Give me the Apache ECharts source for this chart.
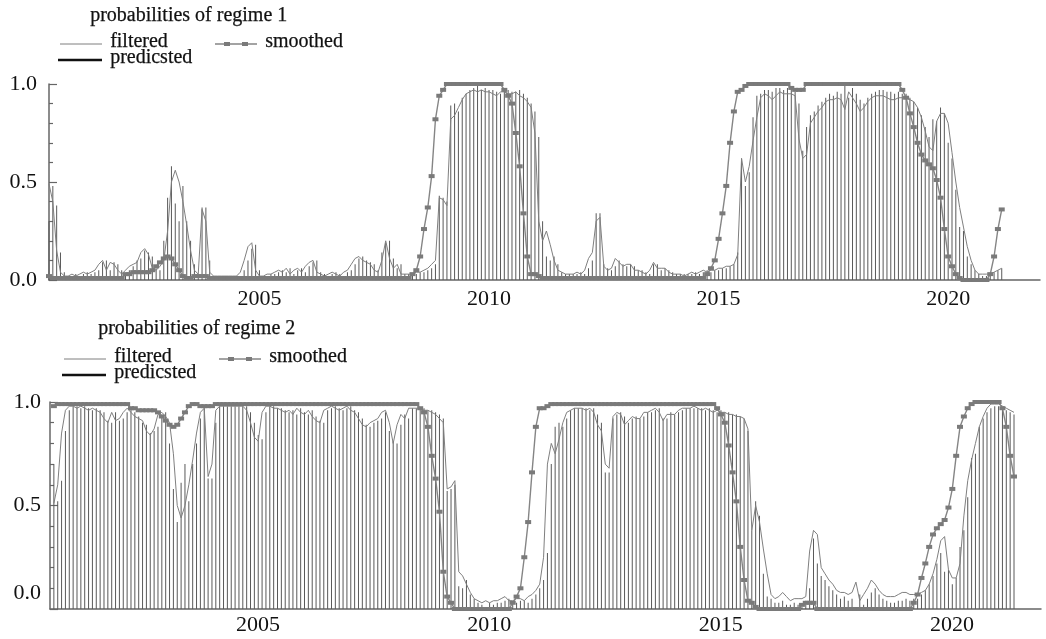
<!DOCTYPE html>
<html><head><meta charset="utf-8">
<script src="https://cdn.jsdelivr.net/npm/echarts@6/dist/echarts.min.js"></script>
<style>html,body{margin:0;padding:0;background:#fff}#c{width:1046px;height:639px}</style>
</head><body><div id="c"></div>
<script>
// ---------------- data (monthly, first observation 2000M06) ----------------
const yearLabels = ['2005', '2010', '2015', '2020'];
const yTickLabels = ['0.0', '0.5', '1.0'];
const panelTitles = ['probabilities of regime 1', 'probabilities of regime 2'];
const legendNames = ['filtered', 'smoothed', 'predicsted'];

const filtered1 = [
0.49,0.40,0.15,0.04,0.02,0.02,0.03,0.02,0.03,0.04,
0.03,0.04,0.05,0.08,0.10,0.05,0.09,0.08,0.05,0.03,
0.05,0.07,0.08,0.09,0.14,0.16,0.13,0.06,0.05,0.07,
0.10,0.25,0.50,0.56,0.50,0.40,0.28,0.15,0.05,0.03,
0.36,0.30,0.04,0.02,0.02,0.02,0.02,0.02,0.02,0.02,
0.04,0.10,0.17,0.19,0.05,0.02,0.02,0.03,0.03,0.04,
0.05,0.04,0.06,0.03,0.05,0.06,0.04,0.07,0.09,0.10,
0.04,0.03,0.02,0.03,0.04,0.03,0.02,0.04,0.05,0.08,
0.11,0.12,0.10,0.09,0.08,0.05,0.04,0.10,0.20,0.11,
0.06,0.08,0.03,0.03,0.03,0.03,0.04,0.04,0.05,0.06,
0.08,0.10,0.42,0.41,0.38,0.82,0.84,0.88,0.92,0.95,
0.96,0.97,0.96,0.97,0.96,0.96,0.95,0.94,0.96,0.96,
0.95,0.95,0.96,0.94,0.93,0.91,0.88,0.75,0.30,0.20,
0.25,0.18,0.10,0.05,0.04,0.03,0.03,0.03,0.04,0.03,
0.05,0.11,0.14,0.30,0.32,0.07,0.05,0.06,0.11,0.09,
0.07,0.08,0.08,0.05,0.05,0.04,0.03,0.05,0.09,0.06,
0.06,0.06,0.04,0.03,0.03,0.03,0.02,0.03,0.04,0.03,
0.04,0.05,0.04,0.05,0.05,0.06,0.06,0.07,0.07,0.08,
0.13,0.62,0.50,0.58,0.71,0.83,0.93,0.95,0.94,0.92,
0.94,0.96,0.95,0.95,0.95,0.94,0.72,0.62,0.64,0.80,
0.83,0.86,0.88,0.91,0.92,0.92,0.93,0.92,0.87,0.96,
0.93,0.90,0.86,0.88,0.91,0.93,0.94,0.94,0.94,0.93,
0.92,0.92,0.93,0.93,0.93,0.92,0.91,0.88,0.83,0.76,
0.68,0.66,0.81,0.85,0.85,0.80,0.65,0.50,0.37,0.27,
0.17,0.10,0.05,0.03,0.03,0.03,0.03,0.04,0.05,0.06
];
const smoothed1 = [
0.02,0.01,0.01,0.01,0.01,0.01,0.01,0.01,0.01,0.01,
0.01,0.01,0.01,0.01,0.01,0.01,0.01,0.01,0.01,0.01,
0.03,0.03,0.04,0.04,0.04,0.04,0.04,0.05,0.07,0.09,
0.11,0.12,0.11,0.08,0.05,0.02,0.01,0.01,0.02,0.02,
0.02,0.02,0.01,0.01,0.01,0.01,0.01,0.01,0.01,0.01,
0.01,0.01,0.01,0.01,0.01,0.01,0.01,0.01,0.01,0.01,
0.01,0.01,0.01,0.01,0.01,0.01,0.01,0.01,0.01,0.01,
0.01,0.01,0.01,0.01,0.01,0.01,0.01,0.01,0.01,0.01,
0.01,0.01,0.01,0.01,0.01,0.01,0.01,0.01,0.01,0.01,
0.01,0.01,0.01,0.01,0.01,0.03,0.05,0.12,0.26,0.37,
0.53,0.82,0.94,0.97,1.00,1.00,1.00,1.00,1.00,1.00,
1.00,1.00,1.00,1.00,1.00,1.00,1.00,1.00,1.00,0.97,
0.94,0.90,0.75,0.58,0.34,0.12,0.03,0.03,0.02,0.01,
0.01,0.01,0.01,0.01,0.01,0.01,0.01,0.01,0.01,0.01,
0.01,0.01,0.01,0.01,0.01,0.01,0.01,0.01,0.01,0.01,
0.01,0.01,0.01,0.01,0.01,0.01,0.01,0.01,0.01,0.01,
0.01,0.01,0.01,0.01,0.01,0.01,0.01,0.01,0.01,0.01,
0.01,0.01,0.03,0.06,0.10,0.21,0.34,0.48,0.70,0.86,
0.96,0.97,0.99,1.00,1.00,1.00,1.00,1.00,1.00,1.00,
1.00,1.00,1.00,1.00,0.98,0.97,0.97,0.97,1.00,1.00,
1.00,1.00,1.00,1.00,1.00,1.00,1.00,1.00,1.00,1.00,
1.00,1.00,1.00,1.00,1.00,1.00,1.00,1.00,1.00,1.00,
1.00,1.00,1.00,0.97,0.93,0.85,0.78,0.70,0.64,0.61,
0.59,0.57,0.51,0.42,0.26,0.12,0.07,0.03,0.01,0.00,
0.00,0.00,0.00,0.00,0.00,0.00,0.03,0.12,0.26,0.36
];
const predicted1 = [
0.30,0.48,0.38,0.14,0.04,0.02,0.02,0.03,0.02,0.03,
0.04,0.03,0.04,0.05,0.09,0.10,0.05,0.09,0.08,0.05,
0.03,0.05,0.07,0.10,0.11,0.15,0.14,0.12,0.06,0.05,
0.20,0.42,0.58,0.39,0.30,0.48,0.30,0.20,0.08,0.03,
0.37,0.37,0.10,0.02,0.02,0.02,0.02,0.02,0.02,0.02,
0.02,0.05,0.10,0.16,0.18,0.05,0.02,0.02,0.03,0.03,
0.04,0.05,0.04,0.06,0.03,0.05,0.06,0.04,0.07,0.09,
0.10,0.04,0.03,0.02,0.03,0.04,0.03,0.02,0.04,0.05,
0.08,0.11,0.12,0.10,0.09,0.08,0.05,0.14,0.19,0.20,
0.11,0.06,0.08,0.03,0.03,0.03,0.03,0.04,0.04,0.05,
0.06,0.08,0.43,0.42,0.40,0.89,0.90,0.86,0.93,0.95,
0.97,0.98,0.99,0.97,0.98,0.97,0.97,0.96,0.95,0.97,
0.97,0.96,0.96,0.97,0.95,0.93,0.90,0.86,0.73,0.30,
0.12,0.10,0.12,0.08,0.04,0.03,0.03,0.03,0.03,0.04,
0.03,0.06,0.10,0.34,0.34,0.08,0.06,0.05,0.07,0.10,
0.08,0.07,0.08,0.07,0.05,0.05,0.04,0.03,0.08,0.08,
0.05,0.06,0.05,0.04,0.03,0.03,0.03,0.03,0.03,0.04,
0.03,0.04,0.05,0.04,0.05,0.05,0.06,0.06,0.07,0.08,
0.14,0.62,0.48,0.55,0.83,0.94,0.95,0.97,0.97,0.96,
0.98,0.98,0.97,0.98,0.99,0.96,0.90,0.66,0.78,0.84,
0.86,0.89,0.91,0.93,0.95,0.94,0.96,0.95,0.99,0.93,
0.98,0.95,0.92,0.90,0.93,0.95,0.96,0.97,0.97,0.96,
0.96,0.95,0.96,0.95,0.95,0.93,0.91,0.88,0.84,0.78,
0.73,0.82,0.81,0.88,0.85,0.70,0.62,0.46,0.27,0.25,
0.12,0.08,0.05,0.03,0.02,0.02,0.03,0.04,0.05,0.06
];
const filtered2 = [
0.51,0.60,0.85,0.96,0.98,0.98,0.97,0.98,0.97,0.96,
0.97,0.96,0.95,0.92,0.90,0.95,0.91,0.92,0.95,0.97,
0.95,0.93,0.92,0.91,0.86,0.84,0.87,0.94,0.95,0.93,
0.90,0.75,0.50,0.44,0.50,0.60,0.72,0.85,0.95,0.97,
0.64,0.70,0.96,0.98,0.98,0.98,0.98,0.98,0.98,0.98,
0.96,0.90,0.83,0.81,0.95,0.98,0.98,0.97,0.97,0.96,
0.95,0.96,0.94,0.97,0.95,0.94,0.96,0.93,0.91,0.90,
0.96,0.97,0.98,0.97,0.96,0.97,0.98,0.96,0.95,0.92,
0.89,0.88,0.90,0.91,0.92,0.95,0.96,0.90,0.80,0.89,
0.94,0.92,0.97,0.97,0.97,0.97,0.96,0.96,0.95,0.94,
0.92,0.90,0.58,0.59,0.62,0.18,0.16,0.12,0.08,0.05,
0.04,0.03,0.04,0.03,0.04,0.04,0.05,0.06,0.04,0.04,
0.05,0.05,0.04,0.06,0.07,0.09,0.12,0.25,0.70,0.80,
0.75,0.82,0.90,0.95,0.96,0.97,0.97,0.97,0.96,0.97,
0.95,0.89,0.86,0.70,0.68,0.93,0.95,0.94,0.89,0.91,
0.93,0.92,0.92,0.95,0.95,0.96,0.97,0.95,0.91,0.94,
0.94,0.94,0.96,0.97,0.97,0.97,0.98,0.97,0.96,0.97,
0.96,0.95,0.96,0.95,0.95,0.94,0.94,0.93,0.93,0.92,
0.87,0.38,0.50,0.42,0.29,0.17,0.07,0.05,0.06,0.08,
0.06,0.04,0.05,0.05,0.05,0.06,0.28,0.38,0.36,0.20,
0.17,0.14,0.12,0.09,0.08,0.08,0.07,0.08,0.13,0.04,
0.07,0.10,0.14,0.12,0.09,0.07,0.06,0.06,0.06,0.07,
0.08,0.08,0.07,0.07,0.07,0.08,0.09,0.12,0.17,0.24,
0.33,0.35,0.19,0.15,0.15,0.22,0.45,0.62,0.72,0.80,
0.88,0.93,0.97,0.99,0.99,0.99,0.98,0.97,0.96,0.95
];
const smoothed2 = [
0.98,0.99,0.99,0.99,0.99,0.99,0.99,0.99,0.99,0.99,
0.99,0.99,0.99,0.99,0.99,0.99,0.99,0.99,0.99,0.99,
0.97,0.97,0.96,0.96,0.96,0.96,0.96,0.95,0.93,0.91,
0.89,0.88,0.89,0.92,0.95,0.98,0.99,0.99,0.98,0.98,
0.98,0.98,0.99,0.99,0.99,0.99,0.99,0.99,0.99,0.99,
0.99,0.99,0.99,0.99,0.99,0.99,0.99,0.99,0.99,0.99,
0.99,0.99,0.99,0.99,0.99,0.99,0.99,0.99,0.99,0.99,
0.99,0.99,0.99,0.99,0.99,0.99,0.99,0.99,0.99,0.99,
0.99,0.99,0.99,0.99,0.99,0.99,0.99,0.99,0.99,0.99,
0.99,0.99,0.99,0.99,0.99,0.97,0.95,0.88,0.74,0.63,
0.47,0.18,0.06,0.03,0.00,0.00,0.00,0.00,0.00,0.00,
0.00,0.00,0.00,0.00,0.00,0.00,0.00,0.00,0.00,0.03,
0.06,0.10,0.25,0.42,0.66,0.88,0.97,0.97,0.98,0.99,
0.99,0.99,0.99,0.99,0.99,0.99,0.99,0.99,0.99,0.99,
0.99,0.99,0.99,0.99,0.99,0.99,0.99,0.99,0.99,0.99,
0.99,0.99,0.99,0.99,0.99,0.99,0.99,0.99,0.99,0.99,
0.99,0.99,0.99,0.99,0.99,0.99,0.99,0.99,0.99,0.99,
0.99,0.99,0.97,0.94,0.90,0.79,0.66,0.52,0.30,0.14,
0.04,0.03,0.01,0.00,0.00,0.00,0.00,0.00,0.00,0.00,
0.00,0.00,0.00,0.00,0.02,0.03,0.03,0.03,0.00,0.00,
0.00,0.00,0.00,0.00,0.00,0.00,0.00,0.00,0.00,0.00,
0.00,0.00,0.00,0.00,0.00,0.00,0.00,0.00,0.00,0.00,
0.00,0.00,0.00,0.03,0.07,0.15,0.22,0.30,0.36,0.39,
0.41,0.43,0.49,0.58,0.74,0.88,0.93,0.97,0.99,1.00,
1.00,1.00,1.00,1.00,1.00,1.00,0.97,0.88,0.74,0.64
];
const predicted2 = [
0.70,0.52,0.62,0.86,0.96,0.98,0.98,0.97,0.98,0.97,
0.96,0.97,0.96,0.95,0.91,0.90,0.95,0.91,0.92,0.95,
0.97,0.95,0.93,0.90,0.89,0.85,0.86,0.88,0.94,0.95,
0.80,0.58,0.42,0.61,0.70,0.52,0.70,0.80,0.92,0.97,
0.63,0.63,0.90,0.98,0.98,0.98,0.98,0.98,0.98,0.98,
0.98,0.95,0.90,0.84,0.82,0.95,0.98,0.98,0.97,0.97,
0.96,0.95,0.96,0.94,0.97,0.95,0.94,0.96,0.93,0.91,
0.90,0.96,0.97,0.98,0.97,0.96,0.97,0.98,0.96,0.95,
0.92,0.89,0.88,0.90,0.91,0.92,0.95,0.86,0.81,0.80,
0.89,0.94,0.92,0.97,0.97,0.97,0.97,0.96,0.96,0.95,
0.94,0.92,0.57,0.58,0.60,0.11,0.10,0.14,0.07,0.05,
0.03,0.02,0.01,0.03,0.02,0.03,0.03,0.04,0.05,0.03,
0.03,0.04,0.04,0.03,0.05,0.07,0.10,0.14,0.27,0.70,
0.88,0.90,0.88,0.92,0.96,0.97,0.97,0.97,0.97,0.96,
0.97,0.94,0.90,0.66,0.66,0.92,0.94,0.95,0.93,0.90,
0.92,0.93,0.92,0.93,0.95,0.95,0.96,0.97,0.92,0.92,
0.95,0.94,0.95,0.96,0.97,0.97,0.97,0.97,0.97,0.96,
0.97,0.96,0.95,0.96,0.95,0.95,0.94,0.94,0.93,0.92,
0.86,0.38,0.52,0.45,0.17,0.06,0.05,0.03,0.03,0.04,
0.02,0.02,0.03,0.02,0.01,0.04,0.10,0.34,0.22,0.16,
0.14,0.11,0.09,0.07,0.05,0.06,0.04,0.05,0.01,0.07,
0.02,0.05,0.08,0.10,0.07,0.05,0.04,0.03,0.03,0.04,
0.04,0.05,0.04,0.05,0.05,0.07,0.09,0.12,0.16,0.22,
0.27,0.18,0.19,0.12,0.15,0.30,0.38,0.54,0.73,0.75,
0.88,0.92,0.95,0.97,0.98,0.98,0.97,0.96,0.95,0.94
];

// ---------------- helpers ----------------
function monthCats(y, m, n) {
  const out = [];
  for (let k = 0; k < n; k++) {
    out.push(y + '-' + (m < 10 ? '0' + m : m));
    m++; if (m > 12) { m = 1; y++; }
  }
  return out;
}
const cats1 = monthCats(2000, 6, 260);   // panel 1 axis
const cats2 = monthCats(2000, 5, 258);   // panel 2 axis (one empty month in front)
const lead = a => [null].concat(a);

const FONT = 'Liberation Serif';
const INK = '#111111';
const AXIS = '#666666';
const FILT = '#7f7f7f';
const SMOO = '#858585';
const BAR = '#595959';

function xAxis(gi, cats) {
  return {
    type: 'category', gridIndex: gi, data: cats, boundaryGap: false,
    axisLine: { show: true, lineStyle: { color: AXIS, width: 1.5 } },
    axisTick: { show: false },
    splitLine: { show: false },
    axisLabel: {
      interval: (idx, v) => v.slice(5) === '01' && yearLabels.indexOf(v.slice(0, 4)) >= 0,
      formatter: v => v.slice(0, 4),
      fontFamily: FONT, fontSize: 22, color: INK, margin: gi === 0 ? 8 : 5,
      padding: gi === 0 ? 0 : [0, 16, 0, 0]
    }
  };
}
function yAxis(gi, margin) {
  return {
    type: 'value', gridIndex: gi, min: 0, max: 1, interval: 0.5,
    axisLine: { show: true, lineStyle: { color: AXIS, width: 1.5 } },
    axisTick: { show: true, inside: true, length: 8, lineStyle: { color: AXIS, width: 1.2 } },
    minorTick: { show: true, splitNumber: 5, length: 4, lineStyle: { color: AXIS, width: 1.2 } },
    splitLine: { show: false },
    axisLabel: {
      margin: margin,
      formatter: v => {
        const t = yTickLabels[Math.round(v * 2)];
        return (gi === 1 && v === 0) ? '{lift|' + t + '}' : t;
      },
      fontFamily: FONT, fontSize: 22, color: INK,
      rich: { lift: { fontFamily: FONT, fontSize: 22, color: INK, padding: [0, 0, 32, 0] } }
    }
  };
}
function seriesFor(gi, f, s, p) {
  return [
    { name: legendNames[2], type: 'bar', xAxisIndex: gi, yAxisIndex: gi, data: p,
      barWidth: 1, itemStyle: { color: BAR }, z: 1, silent: true },
    { name: legendNames[0], type: 'line', xAxisIndex: gi, yAxisIndex: gi, data: f,
      symbol: 'none', lineStyle: { color: FILT, width: 1 }, z: 2, silent: true },
    { name: legendNames[1], type: 'line', xAxisIndex: gi, yAxisIndex: gi, data: s,
      symbol: 'rect', symbolSize: [6, 4], showAllSymbol: true,
      itemStyle: { color: '#7a7a7a' }, lineStyle: { color: SMOO, width: 1.4 }, z: 3, silent: true }
  ];
}
function legendGraphics(o) {
  const txt = (x, y, t) => ({ type: 'text', left: x, top: y - 12,
    style: { text: t, fontFamily: FONT, fontSize: 20, fill: INK, stroke: INK, lineWidth: 0.25 } });
  const ln = (x1, x2, y, c, w) => ({ type: 'line', shape: { x1: x1, y1: y, x2: x2, y2: y },
    style: { stroke: c, lineWidth: w } });
  const sq = (x, y) => ({ type: 'rect', shape: { x: x - 3, y: y - 2, width: 6, height: 4 },
    style: { fill: '#7a7a7a' } });
  return [
    txt(o.tx, o.ty, o.title),
    ln(o.lx, o.lx + 42, o.fy, FILT, 1),
    txt(o.lx + 50, o.fy, legendNames[0]),
    ln(o.sx, o.sx + 42, o.fy, SMOO, 1.3), sq(o.sx + 12, o.fy), sq(o.sx + 30, o.fy),
    txt(o.sx + 50, o.fy, legendNames[1]),
    ln(o.lx - 2, o.lx + 42, o.py, '#111', 2.6),
    txt(o.lx + 50, o.py, legendNames[2])
  ];
}

const chart = echarts.init(document.getElementById('c'), null, { renderer: 'canvas' });
chart.setOption({
  animation: false,
  backgroundColor: '#ffffff',
  grid: [
    { left: 49, top: 84, width: 991, height: 196 },
    { left: 50, top: 402, width: 991, height: 207 }
  ],
  xAxis: [xAxis(0, cats1), xAxis(1, cats2)],
  yAxis: [yAxis(0, 12), yAxis(1, 9)],
  series: seriesFor(0, filtered1, smoothed1, predicted1)
    .concat(seriesFor(1, lead(filtered2), lead(smoothed2), lead(predicted2))),
  graphic: legendGraphics({ title: panelTitles[0], tx: 90, ty: 18, lx: 60, sx: 215, fy: 44, py: 60 })
    .concat(legendGraphics({ title: panelTitles[1], tx: 98, ty: 331, lx: 64, sx: 219, fy: 359, py: 375 }))
});
</script>
</body></html>
